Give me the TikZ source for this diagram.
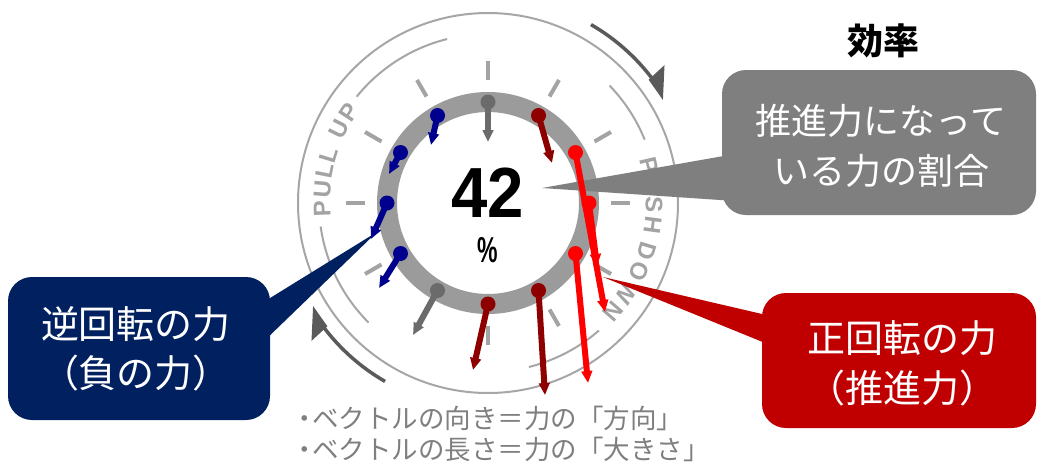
\documentclass[tikz,border=0pt]{standalone}
\usepackage{fontspec}
\setmainfont{Liberation Sans}
\newfontfamily\jp{Noto Sans CJK JP}
\usetikzlibrary{arrows.meta}
\definecolor{ringgray}{HTML}{9B9B9B}
\definecolor{tickgray}{HTML}{A3A3A3}
\definecolor{linegray}{HTML}{A6A6A6}
\definecolor{arrowgray}{HTML}{5A5A5A}
\definecolor{pingray}{HTML}{6B6B6B}
\definecolor{pindark}{HTML}{8E0000}
\definecolor{pinred}{HTML}{FF0000}
\definecolor{pinblue}{HTML}{00008F}
\definecolor{boxgray}{HTML}{7F7F7F}
\definecolor{boxnavy}{HTML}{002060}
\definecolor{boxred}{HTML}{C00000}
\definecolor{textgray}{HTML}{7F7F7F}
\tikzset{
  lettr/.style={inner sep=0pt, text=tickgray, font=\bfseries\fontsize{24}{24}\selectfont},
  pinline/.style={line width=6pt, -{Triangle[length=12pt,width=10.5pt]}},
  callout/.style={rounded corners=24pt, inner sep=0pt},
  calltext/.style={text=white, align=center, inner sep=0pt},
}
\begin{document}
\begin{tikzpicture}[x=1pt,y=-1pt]
\useasboundingbox (0,0) rectangle (1037,475);
\fill[white] (0,0) rectangle (1037,475);

\begin{scope}[shift={(488,203)}]
  \draw[linegray, line width=2pt] (0,0) circle[radius=190];
  \foreach \a/\b in {309/346, 46/68, 139/166, 225/262}
    \draw[linegray, line width=2pt] plot[domain=\a:\b, samples=30] (\x-90:169);
  \foreach \t in {0,30,...,330}
    \draw[tickgray, line width=4pt] (\t-90:123) -- (\t-90:142);
  \foreach \t/\c [count=\i] in {268/P, 274.7/U, 281.1/L, 286.9/L, 296.6/U, 303.3/P, 77/P, 83.8/U, 90.7/S, 97.6/H, 106.8/D, 114.4/O, 122.6/W, 131/N}
    \node[lettr, rotate=-\t] (L\i) at (\t-90:166) {\c};
  \foreach \s in {0,180} {
    \pgfmathsetmacro\aa{30+\s}
    \pgfmathsetmacro\bb{53+\s}
    \draw[arrowgray, line width=3.5pt] plot[domain=\aa:\bb, samples=30] (\x-90:206);
    \fill[arrowgray] (\s+52.5-90:202.5) -- (\s+52-90:224) -- (\s+59.5-90:203) -- cycle;
  }
  \draw[ringgray, line width=20pt] (0,0) circle[radius=101];
\end{scope}

% callouts
\coordinate (gtip) at (542,188);
\coordinate (ntip) at (377,232);
\coordinate (rtip) at (603,277);
\fill[boxgray] (gtip) -- (735,154) -- (735,201) -- cycle;
\fill[boxnavy] (ntip) -- (262,303) -- (262,343) -- cycle;
\fill[boxred] (rtip) -- (775,317) -- (775,347) -- cycle;
\node[callout, fill=boxgray, minimum width=314pt, minimum height=145pt] (gbox) at (879,142.5) {};
\node[callout, fill=boxnavy, minimum width=262pt, minimum height=143pt] (nbox) at (139,348.5) {};
\node[callout, fill=boxred, minimum width=274pt, minimum height=135pt] (rbox) at (899,360.5) {};
\node[calltext, font=\jp\fontsize{36}{50}\selectfont] (gtext) at (881,146) {推進力になって\\いる力の割合};
\node[calltext, font=\jp\fontsize{38}{49}\selectfont] (ntext) at (136,348.5) {逆回転の力\\（負の力）};
\node[calltext, font=\jp\fontsize{38}{50}\selectfont] (rtext) at (902,363) {正回転の力\\（推進力）};
\node[inner sep=0pt, font=\jp\bfseries\fontsize{36}{36}\selectfont] (title) at (883,41) {効率};

% pins
\draw[pinline, pingray] (488,102) -- (488,142);
\fill[pingray] (488,102) circle[radius=7.5];
\draw[pinline, pindark] (538.5,115.5) -- (552,163);
\fill[pindark] (538.5,115.5) circle[radius=7.5];
\draw[pinline, pinred] (575.5,152.5) -- (605,312);
\fill[pinred] (575.5,152.5) circle[radius=7.5];
\draw[pinline, pinred] (589,203) -- (597,266);
\fill[pinred] (589,203) circle[radius=7.5];
\draw[pinline, pinred] (575.5,253.5) -- (588,383);
\fill[pinred] (575.5,253.5) circle[radius=7.5];
\draw[pinline, pindark] (538.5,290.5) -- (545,395);
\fill[pindark] (538.5,290.5) circle[radius=7.5];
\draw[pinline, pindark] (488,304) -- (473,370);
\fill[pindark] (488,304) circle[radius=7.5];
\draw[pinline, pingray] (437.5,290.5) -- (413,335);
\fill[pingray] (437.5,290.5) circle[radius=7.5];
\draw[pinline, pinblue] (400.5,253.5) -- (379,288);
\fill[pinblue] (400.5,253.5) circle[radius=7.5];
\draw[pinline, pinblue] (387,203) -- (371,239);
\fill[pinblue] (387,203) circle[radius=7.5];
\draw[pinline, pinblue] (400.5,152.5) -- (389,174);
\fill[pinblue] (400.5,152.5) circle[radius=7.5];
\draw[pinline, pinblue] (437.5,115.5) -- (431,145);
\fill[pinblue] (437.5,115.5) circle[radius=7.5];

% center value
\node[inner sep=0pt] (val) at (488,192.5) {\scalebox{0.92}[1]{\bfseries\fontsize{71}{71}\selectfont 42}};
\node[inner sep=0pt] (unit) at (488,250) {\scalebox{0.64}[1]{\bfseries\fontsize{36}{36}\selectfont\%}};

% bottom notes
\node[anchor=west, inner sep=0pt, text=textgray, font=\jp\fontsize{26.5}{26.5}\selectfont] (note1) at (291,418) {・\kern-0.2em ベクトルの向き＝力の「方向」};
\node[anchor=west, inner sep=0pt, text=textgray, font=\jp\fontsize{26.5}{26.5}\selectfont] (note2) at (291,449) {・\kern-0.2em ベクトルの長さ＝力の「大きさ」};
\end{tikzpicture}
\end{document}
